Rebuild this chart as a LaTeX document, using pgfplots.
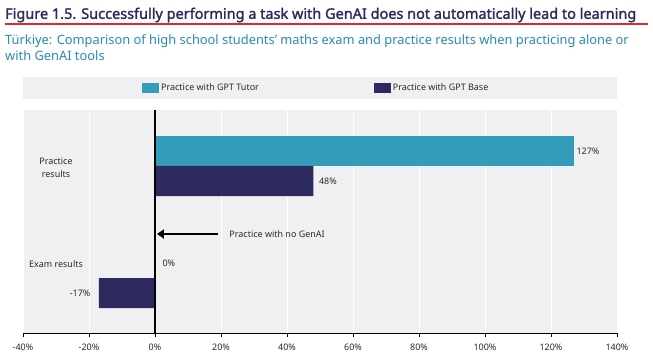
\documentclass[border=0pt]{standalone}
\usepackage{pgfplots}
\pgfplotsset{compat=1.18}
\usepackage{fontspec}
\setmainfont{Noto Sans}
\newfontfamily\titlefont{Noto Sans}[FakeBold=1.6]
\usetikzlibrary{arrows.meta}
\definecolor{tutor}{HTML}{339CBA}
\definecolor{base}{HTML}{2D2A5F}
\definecolor{bg}{HTML}{F0EFF2}
\definecolor{navy}{HTML}{2B2A5E}
\definecolor{teal}{HTML}{2A8AB5}
\definecolor{redline}{HTML}{E3262B}
\definecolor{txt}{HTML}{2A2A2A}
\begin{document}
\begin{tikzpicture}[x=1bp,y=1bp]
\path[fill=white] (0,0) rectangle (653,360);
\node[anchor=west, inner sep=0, text=navy] at (5,345) {\resizebox{631bp}{!}{\titlefont Figure 1.5. Successfully performing a task with GenAI does not automatically lead to learning}};
\draw[redline, line width=1.2bp] (5,336) -- (648,336);
\node[anchor=west, inner sep=0, text=teal, font=\fontsize{12.9}{15}\selectfont] at (5,319) {Türkiye: Comparison of high school students’ maths exam and practice results when practicing alone or};
\node[anchor=west, inner sep=0, text=teal, font=\fontsize{12.9}{15}\selectfont] at (5,304.5) {with GenAI tools};
\fill[bg] (23,261) rectangle (617,283);
\begin{axis}[
  at={(23bp,27bp)}, anchor=south west, scale only axis,
  width=594bp, height=223bp,
  xmin=-40, xmax=140, ymin=0, ymax=223,
  clip=false,
  axis background/.style={fill=bg},
  axis x line*=bottom, axis y line=none,
  axis line style={black, line width=1bp},
  xtick={-40,-20,...,140},
  xticklabel={\pgfmathprintnumber{\tick}\%},
  /pgf/number format/assume math mode=true,
  tick label style={font=\fontsize{9}{10}\selectfont, text=txt},
  xticklabel style={yshift=-3bp},
  tick align=outside, major tick length=4bp,
  tick style={black, line width=0.8bp},
  xmajorgrids, major grid style={white, line width=1bp},
  legend style={at={(0.2003,1.0987)}, anchor=west, draw=none, fill=none, inner sep=0pt,
    font=\fontsize{9}{10}\selectfont, text=txt,
    /tikz/every even column/.append style={column sep=113bp}},
  legend columns=2, legend cell align=left,
  legend image code/.code={\fill[#1] (0bp,-5bp) rectangle (17bp,5bp);},
]
\addplot[xbar, bar width=30, bar shift=0pt, fill=tutor, draw=none] coordinates {(127,182)};
\addlegendentry{Practice with GPT Tutor}
\addplot[xbar, bar width=30, bar shift=0pt, fill=base, draw=none] coordinates {(48,152) (-17,40)};
\addlegendentry{Practice with GPT Base}
\draw[black, line width=1.3bp] (axis cs:0,0) -- (axis cs:0,223);
\draw[-{Triangle[length=7bp,width=9bp]}, line width=2.5bp] (axis cs:19,99) -- (axis cs:0.6,99);
\node[anchor=west, font=\fontsize{9}{10}\selectfont, text=txt] at (axis cs:21.5,99) {Practice with no GenAI};
\node[font=\fontsize{9}{10}\selectfont, text=txt] at (axis cs:131.2,182) {127\%};
\node[font=\fontsize{9}{10}\selectfont, text=txt] at (axis cs:52.4,152) {48\%};
\node[font=\fontsize{9}{10}\selectfont, text=txt] at (axis cs:4.2,70) {0\%};
\node[font=\fontsize{9}{10}\selectfont, text=txt] at (axis cs:-22.7,40) {-17\%};
\node[font=\fontsize{9}{13}\selectfont, text=txt, align=center] at (axis cs:-30,165) {Practice\\results};
\node[font=\fontsize{9}{10}\selectfont, text=txt] at (axis cs:-30,69) {Exam results};
\end{axis}
\end{tikzpicture}
\end{document}
